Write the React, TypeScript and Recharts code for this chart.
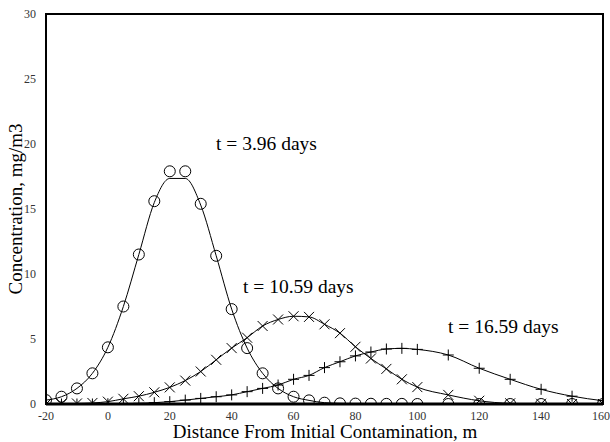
import { LineChart, Line, XAxis, YAxis } from 'recharts'

// distance from initial contamination, m
const distances = [
  -20, -15, -10, -5, 0, 5, 10, 15, 20, 25, 30, 35, 40, 45, 50, 55, 60, 65, 70, 75, 80, 85, 90, 95, 100,
  110, 120, 130, 140, 150, 160,
]

// t = 3.96 days (circles = measured, line = model)
const circles = [
  0.3, 0.56, 1.2, 2.36, 4.36, 7.5, 11.5, 15.6, 17.9, 17.9, 15.4, 11.4, 7.3, 4.3, 2.36, 1.2, 0.56, 0.28, 0.1, 0.05,
  0.03, 0.02, 0.01, 0.01, 0, 0, 0, 0, 0, 0, 0,
]
const circlesModel = [
  0.3, 0.56, 1.2, 2.36, 4.36, 7.5, 11.5, 15.5, 17.35, 17.35, 15.3, 11.4, 7.3, 4.3, 2.36, 1.2, 0.56, 0.28, 0.1, 0.05,
  0.03, 0.02, 0.01, 0.01, 0, 0, 0, 0, 0, 0, 0,
]

// t = 10.59 days
const crosses = [
  0, 0.02, 0.04, 0.08, 0.18, 0.4, 0.6, 0.9, 1.28, 1.8, 2.5, 3.4, 4.3, 5.1, 6.0, 6.5, 6.75, 6.7, 6.13, 5.45, 4.4, 3.5,
  2.7, 1.9, 1.3, 0.7, 0.25, 0.05, 0.02, 0, 0,
]

// t = 16.59 days
const pluses = [
  0, 0, 0, 0, 0.02, 0.03, 0.05, 0.1, 0.18, 0.3, 0.43, 0.56, 0.7, 0.95, 1.2, 1.46, 1.9, 2.2, 2.8, 3.25, 3.7, 4.0, 4.23,
  4.28, 4.2, 3.77, 2.75, 1.9, 1.13, 0.6, 0.25,
]

const xTicks = [-20, 0, 20, 40, 60, 80, 100, 120, 140, 160]
const yTicks = [0, 5, 10, 15, 20, 25, 30]

const data = distances.map((d, i) => ({
  d,
  circ: circles[i],
  circLine: circlesModel[i],
  cross: crosses[i],
  plus: pluses[i],
}))

const FONT = '"Liberation Serif", "DejaVu Serif", serif'
const tickStyle = { fontSize: 12, fill: '#333', fontFamily: FONT }

// plot box (matches the chart margins + axis sizes below)
const BOX = { left: 46, top: 14, right: 603, bottom: 404 }

const CircleDot = (p: any) => (
  <circle key={p.index} cx={p.cx} cy={p.cy} r={5.5} fill="none" stroke="#000" strokeWidth={1} />
)
const CrossDot = (p: any) => (
  <path key={p.index} d={`M${p.cx - 5},${p.cy - 5}L${p.cx + 5},${p.cy + 5}M${p.cx - 5},${p.cy + 5}L${p.cx + 5},${p.cy - 5}`}
    stroke="#000" strokeWidth={1} fill="none" />
)
const PlusDot = (p: any) => (
  <path key={p.index} d={`M${p.cx - 5.5},${p.cy}L${p.cx + 5.5},${p.cy}M${p.cx},${p.cy - 5.5}L${p.cx},${p.cy + 5.5}`}
    stroke="#000" strokeWidth={1} fill="none" />
)

export default function App() {
  const tickLine = { stroke: '#000', strokeWidth: 1 }
  return (
    <div style={{ position: 'absolute', left: 0, top: 0, width: 610, height: 442, background: '#fff' }}>
      <LineChart width={610} height={442} data={data} margin={{ top: 14, right: 7, bottom: 8, left: 6 }}>
        <XAxis xAxisId="b" dataKey="d" type="number" domain={[-20, 160]} ticks={xTicks} height={30}
          tickLine={false} axisLine={false} tick={tickStyle} tickMargin={1} allowDataOverflow />
        <XAxis xAxisId="b2" dataKey="d" type="number" domain={[-20, 160]} ticks={xTicks} height={1} mirror
          orientation="bottom" tick={false} tickLine={tickLine} tickSize={5} axisLine={false} />
        <XAxis xAxisId="t" dataKey="d" type="number" domain={[-20, 160]} ticks={xTicks} height={1} mirror
          orientation="top" tick={false} tickLine={tickLine} tickSize={5} axisLine={false} />
        <YAxis yAxisId="l" type="number" domain={[0, 30]} ticks={yTicks} width={40}
          tickLine={false} axisLine={false} tick={tickStyle} tickMargin={4} allowDataOverflow />
        <YAxis yAxisId="l2" type="number" domain={[0, 30]} ticks={yTicks} width={1} mirror
          tick={false} tickLine={tickLine} tickSize={5} axisLine={false} />
        <YAxis yAxisId="r" type="number" domain={[0, 30]} ticks={yTicks} width={1} mirror orientation="right"
          tick={false} tickLine={tickLine} tickSize={5} axisLine={false} />

        <Line xAxisId="b" yAxisId="l" type="monotone" dataKey="circLine" stroke="#000" strokeWidth={1}
          dot={false} isAnimationActive={false} />
        <Line xAxisId="b" yAxisId="l" type="monotone" dataKey="circ" stroke="none"
          dot={CircleDot} isAnimationActive={false} />
        <Line xAxisId="b" yAxisId="l" type="monotone" dataKey="cross" stroke="#000" strokeWidth={1}
          dot={CrossDot} isAnimationActive={false} />
        <Line xAxisId="b" yAxisId="l" type="monotone" dataKey="plus" stroke="#000" strokeWidth={1}
          dot={PlusDot} isAnimationActive={false} />
      </LineChart>
      <svg width={610} height={442} style={{ position: 'absolute', left: 0, top: 0, pointerEvents: 'none' }}>
        <rect x={BOX.left} y={BOX.top} width={BOX.right - BOX.left} height={BOX.bottom - BOX.top}
          fill="none" stroke="#000" strokeWidth={2} />
        <line x1={BOX.left} x2={BOX.right} y1={BOX.bottom} y2={BOX.bottom} stroke="#000" strokeWidth={3} />
        <g fontFamily={FONT} fill="#000">
          <text x={216} y={150} fontSize={19.5}>t = 3.96 days</text>
          <text x={243} y={293} fontSize={19.5}>t = 10.59 days</text>
          <text x={448} y={333} fontSize={19.5}>t = 16.59 days</text>
          <text x={325} y={438} fontSize={19} textAnchor="middle">Distance From Initial Contamination, m</text>
          <text x={0} y={0} fontSize={19} textAnchor="middle" transform="translate(22,209) rotate(-90)">
            Concentration, mg/m3
          </text>
        </g>
      </svg>
    </div>
  )
}
